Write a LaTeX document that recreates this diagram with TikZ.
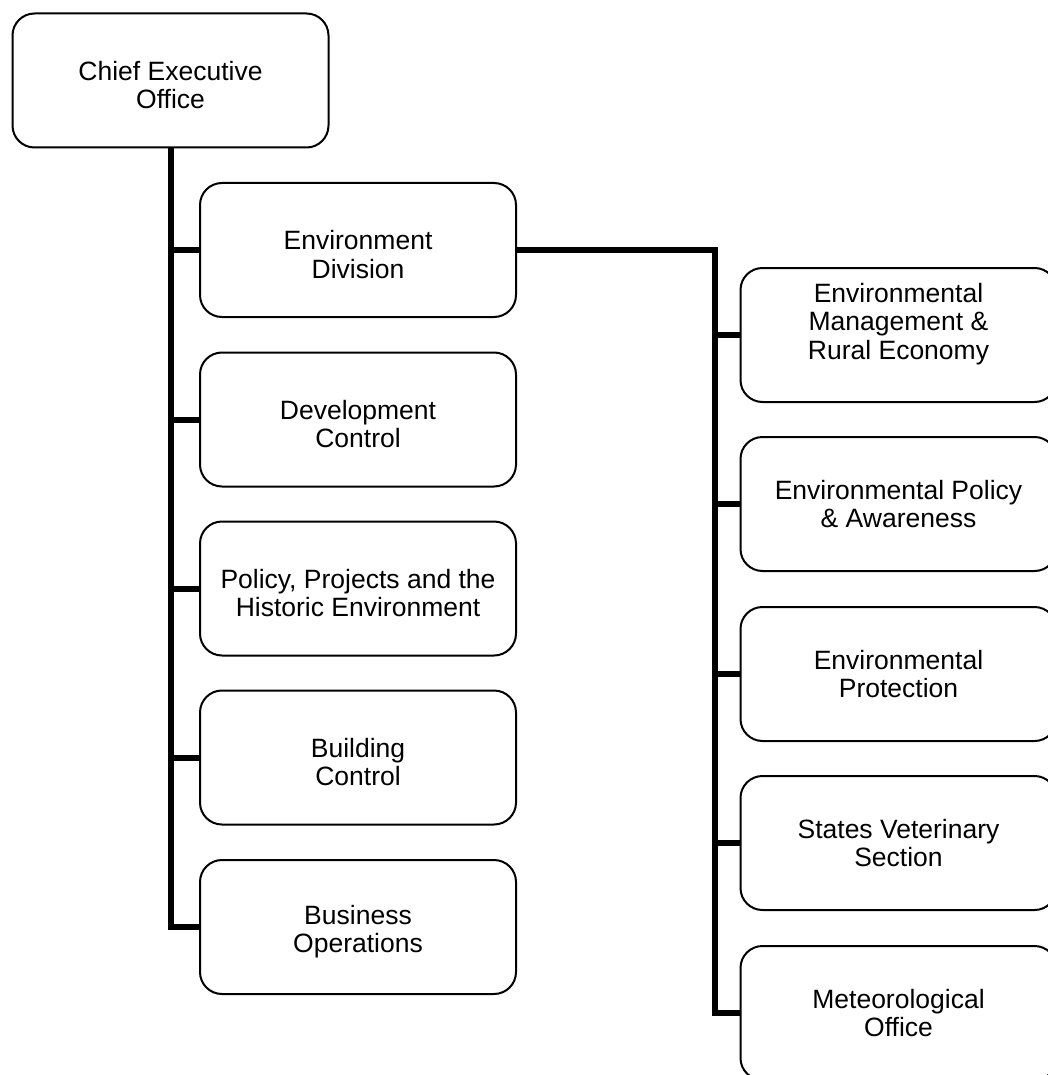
\documentclass[tikz,border=0pt]{standalone}
\usepackage{fontspec}
\setmainfont{Liberation Sans}
\newcommand\dropstrut{\rule{0pt}{28pt}}
\begin{document}
\begin{tikzpicture}[x=1pt,y=-1pt,
  box/.style={draw, line width=2pt, rounded corners=22pt, minimum width=316pt, minimum height=134pt,
    inner sep=0pt, align=center, font=\fontsize{26.5}{28.5}\selectfont},
  txt/.style={inner sep=0pt, align=center, font=\fontsize{26.5}{28.5}\selectfont},
  conn/.style={line width=6pt, line join=miter}]
\useasboundingbox (0,0) rectangle (1048,1075);
\clip (0,0) rectangle (1048,1075);
% top
\node[box] (ceo) at (170.5,80.5) {\dropstrut Chief Executive\\Office};
% left column
\node[box] (env) at (358,250) {\dropstrut Environment\\Division};
\node[box] (dev) at (358,419.5) {\dropstrut Development\\Control};
\node[box] (pol) at (358,588.5) {\dropstrut Policy, Projects and the\\Historic Environment};
\node[box] (bld) at (358,757.5) {\dropstrut Building\\Control};
\node[box] (bus) at (358,927) {\dropstrut Business\\Operations};
% right column
\node[box] (emre) at (898.5,335) {};
\node[txt, anchor=north] (emretxt) at (898.5,283) {Environmental\\Management \&\\Rural Economy};
\node[box] (epa) at (898.5,504) {Environmental Policy\\\& Awareness};
\node[box] (ep) at (898.5,674) {Environmental\\Protection};
\node[box] (svs) at (898.5,843) {States Veterinary\\Section};
\node[box] (met) at (898.5,1013) {Meteorological\\Office};
% connectors
\draw[conn] (ceo.south) |- (bus.west);
\foreach \n in {env,dev,pol,bld} \draw[conn] (ceo.south |- \n.west) -- (\n.west);
\coordinate (rj) at (715,250);
\draw[conn] (env.east) -- (rj) |- (met.west);
\foreach \n in {emre,epa,ep,svs} \draw[conn] (rj |- \n.west) -- (\n.west);
\end{tikzpicture}
\end{document}
